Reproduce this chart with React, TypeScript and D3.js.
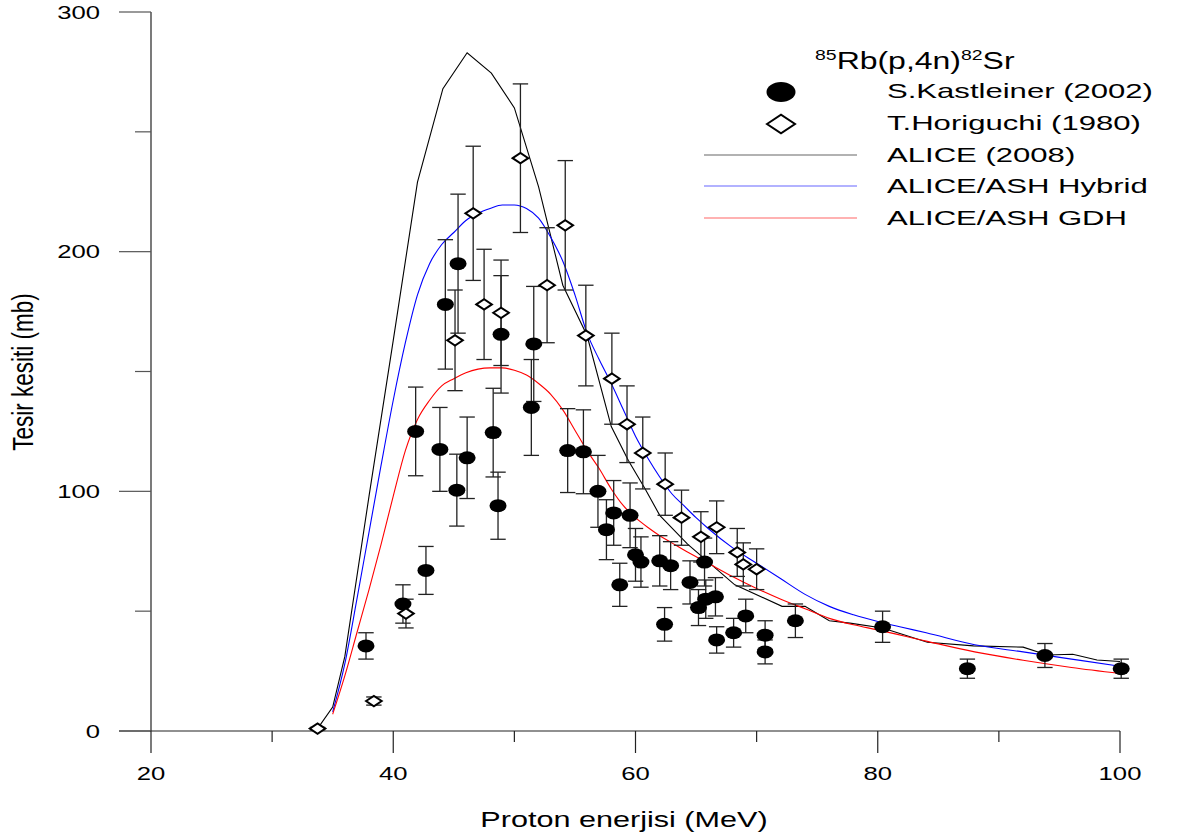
import React from "react";
import * as d3 from "d3";

// Kastleiner (2002) data: energy (MeV), cross-section (mb), error (mb)
const kastE = [37.75, 40.8, 42.7, 41.85, 43.85, 45.25, 46.1, 44.3, 45.35, 48.25, 48.65, 48.9, 51.6, 51.4, 54.4, 55.7, 56.9, 57.6, 58.2, 58.7, 59.55, 60.0, 60.45, 62.0, 62.9, 62.4, 64.5, 65.2, 65.7, 65.8, 66.6, 66.7, 68.1, 69.1, 70.7, 70.7, 73.2, 80.4, 87.4, 93.8, 100.1];
const kastV = [35.5, 53, 67, 125, 117.5, 100.5, 114, 178, 195, 124.5, 94, 165.5, 161.5, 135, 117, 116.5, 100, 84, 91, 61, 90, 73.5, 70.5, 71, 69, 44.5, 62, 51.5, 70.5, 55, 56, 38, 41, 48, 40, 33, 46, 43.5, 26, 31.5, 26];
const kastErr = [5.5, 8, 10, 18.5, 17.5, 15, 17, 27, 29, 18.5, 14, 24.5, 24, 20, 17.5, 17.5, 15, 12.5, 13.5, 9, 13.5, 11, 10.5, 10.5, 10, 7, 9, 7.5, 10, 8, 8, 5.5, 6, 7, 6, 5, 7, 6.5, 4, 5, 4];

// Horiguchi (1980) data
const horiE = [33.75, 38.4, 41.05, 45.1, 46.6, 47.5, 48.9, 50.5, 52.7, 54.2, 55.9, 58.05, 59.3, 60.6, 62.45, 63.8, 65.4, 66.7, 68.4, 68.9, 70.0];
const horiV = [1, 12.5, 49, 163, 216, 178, 174.5, 239, 186, 211, 165, 147, 128, 116, 103, 89, 81, 85, 74.5, 69.5, 67.5];
const horiErr = [0.5, 1.7, 6, 21, 28, 23, 22, 31, 24, 27, 21, 19, 16, 15, 13, 11.5, 10.5, 11, 10, 9, 8.5];

// ALICE (2008)
const aliceE = [33.75, 35, 36, 38, 40, 42, 44.1, 46.1, 48.1, 50, 52, 54, 56, 58, 59.4, 60.8, 62, 64.3, 68.2, 72.1, 74, 76, 77.7, 80.4, 84.1, 87.9, 92, 94, 96.1, 98.1, 100];
const aliceV = [1, 10, 31, 98, 163, 229, 268, 283, 274.5, 260, 227, 186, 165, 127, 113, 101, 90, 78, 61, 52, 52, 46, 45, 43, 37, 35.5, 35, 31.7, 32, 29.6, 29];

// ALICE/ASH Hybrid
const hybE = [35, 36, 37, 38, 39, 40, 41, 42, 43, 44, 45, 46, 47, 48, 49, 50, 51, 52, 53, 54, 55, 56, 57, 58, 59, 60, 61, 62, 63, 64, 65, 66, 68, 70, 72, 74, 76, 78, 80, 82, 84, 88, 92, 96, 100];
const hybV = [8, 28, 55, 83, 111, 138, 162, 182, 195, 203, 208, 213, 216, 218, 219.5, 219.5, 218, 214, 206, 196, 182, 166, 155, 145, 134, 123, 114, 106, 99, 94, 89, 84.5, 76.5, 70, 63.5, 57, 52, 48.5, 45.7, 43.3, 41, 36, 33, 30, 27];

// ALICE/ASH GDH
const gdhE = [35, 36, 37, 38, 39, 40, 41, 42, 43, 44, 45, 46, 47, 48, 49, 50, 51, 52, 53, 54, 55, 56, 57, 58, 59, 60, 61, 62, 63, 64, 66, 68, 70, 72, 74, 76, 78, 80, 84, 88, 92, 96, 100];
const gdhV = [7, 23, 41, 59, 78, 98, 117, 130, 138, 144, 147, 149.5, 151, 151.5, 151.5, 150.5, 148.5, 145, 140.5, 134, 125.5, 117, 109.5, 101, 94, 89, 85, 81.5, 78.5, 75.5, 70, 64.5, 59.5, 55, 51, 47, 44.3, 42.2, 37.5, 33, 29.5, 26.5, 24];

const xMajor = [20, 40, 60, 80, 100];
const xMinor = [30, 50, 70, 90];
const yMajor = [0, 100, 200, 300];
const yMinor = [50, 150, 250];

const legendItems = ["S.Kastleiner (2002)", "T.Horiguchi (1980)", "ALICE (2008)", "ALICE/ASH Hybrid", "ALICE/ASH GDH"];

const FONT = "'Liberation Sans', Arial, Helvetica, sans-serif";

function SText({ x, y, sx = 1.4, size, anchor = "start", children, dy }: any) {
  return (
    <g transform={`translate(${x},${y}) scale(${sx},1)`}>
      <text textAnchor={anchor} fontSize={size} fontFamily={FONT} fill="#000" dy={dy}>
        {children}
      </text>
    </g>
  );
}

export default function App() {
  const W = 1180, H = 837;
  const x = d3.scaleLinear().domain([20, 100]).range([151, 1120]);
  const y = d3.scaleLinear().domain([0, 300]).range([731, 12]);

  const lineLin = d3.line<[number, number]>().x(d => x(d[0])).y(d => y(d[1]));
  const lineSmooth = d3.line<[number, number]>().x(d => x(d[0])).y(d => y(d[1])).curve(d3.curveMonotoneX);

  const alice = aliceE.map((e, i) => [e, aliceV[i]] as [number, number]);
  const hyb = hybE.map((e, i) => [e, hybV[i]] as [number, number]);
  const gdh = gdhE.map((e, i) => [e, gdhV[i]] as [number, number]);

  const cap = 7.7;
  const errColor = "#222";

  const diamond = (cx: number, cy: number, hw: number, hh: number) =>
    `M${cx - hw},${cy} L${cx},${cy - hh} L${cx + hw},${cy} L${cx},${cy + hh} Z`;

  const errBar = (e: number, v: number, err: number, key: string) => {
    const cx = x(e), y1 = y(v + err), y2 = y(v - err);
    return (
      <g key={key} stroke={errColor} strokeWidth={1.3} fill="none">
        <line x1={cx} x2={cx} y1={y1} y2={y2} />
        <line x1={cx - cap} x2={cx + cap} y1={y1} y2={y1} />
        <line x1={cx - cap} x2={cx + cap} y1={y2} y2={y2} />
      </g>
    );
  };

  const legendY = [92, 124, 155, 186, 218];
  const legendBase = [98, 130, 162, 193, 225];

  return (
    <svg width={W} height={H} style={{ position: "absolute", left: 0, top: 0, background: "#fff" }}>
      <rect x={0} y={0} width={W} height={H} fill="#fff" />
      {/* axes */}
      <g stroke="#222" strokeWidth={1.2} fill="none">
        <line x1={151} x2={151} y1={y(300)} y2={y(0)} />
        <line x1={119} x2={x(100)} y1={y(0)} y2={y(0)} />
        {yMajor.map(t => <line key={"ym" + t} x1={119} x2={151} y1={y(t)} y2={y(t)} stroke="#555" />)}
        {yMinor.map(t => <line key={"yn" + t} x1={135} x2={151} y1={y(t)} y2={y(t)} stroke="#555" />)}
        {xMajor.map(t => <line key={"xm" + t} x1={x(t)} x2={x(t)} y1={y(0)} y2={753} />)}
        {xMinor.map(t => <line key={"xn" + t} x1={x(t)} x2={x(t)} y1={y(0)} y2={742} />)}
      </g>
      {yMajor.map(t => (
        <SText key={"yl" + t} x={100} y={y(t)} sx={1.38} size={18.6} anchor="end" dy="0.36em">{t}</SText>
      ))}
      {xMajor.map(t => (
        <SText key={"xl" + t} x={x(t)} y={780} sx={1.38} size={18.6} anchor="middle">{t}</SText>
      ))}
      <SText x={624} y={827} sx={1.36} size={22.5} anchor="middle">Proton enerjisi (MeV)</SText>
      <g transform="translate(33,372) scale(1.35,1) rotate(-90)">
        <text textAnchor="middle" fontSize={22.5} fontFamily={FONT} fill="#000">Tesir kesiti (mb)</text>
      </g>

      {/* model curves */}
      <path d={lineLin(alice) || ""} fill="none" stroke="#000" strokeWidth={1.1} />
      <path d={lineSmooth(hyb) || ""} fill="none" stroke="#0000ff" strokeWidth={1.1} />
      <path d={lineSmooth(gdh) || ""} fill="none" stroke="#ff0000" strokeWidth={1.1} />

      {/* error bars */}
      {kastE.map((e, i) => errBar(e, kastV[i], kastErr[i], "ke" + i))}
      {horiE.map((e, i) => errBar(e, horiV[i], horiErr[i], "he" + i))}

      {/* markers */}
      {kastE.map((e, i) => (
        <ellipse key={"k" + i} cx={x(e)} cy={y(kastV[i])} rx={8.5} ry={6.5} fill="#000" />
      ))}
      {horiE.map((e, i) => (
        <path key={"h" + i} d={diamond(x(e), y(horiV[i]), 7.8, 5.2)} fill="#fff" stroke="#000" strokeWidth={2} />
      ))}

      {/* legend */}
      <g transform="translate(815,69) scale(1.39,1)">
        <text fontFamily={FONT} fill="#000" fontSize={23}>
          <tspan fontSize={14} dy={-9}>85</tspan>
          <tspan dy={9}>Rb(p,4n)</tspan>
          <tspan fontSize={14} dy={-9}>82</tspan>
          <tspan dy={9}>Sr</tspan>
        </text>
      </g>
      <ellipse cx={781} cy={legendY[0]} rx={14.5} ry={10} fill="#000" />
      <path d={diamond(781, legendY[1], 14, 9.3)} fill="#fff" stroke="#000" strokeWidth={2} />
      <line x1={704} x2={857} y1={legendY[2]} y2={legendY[2]} stroke="#000" strokeWidth={1} opacity={0.6} />
      <line x1={704} x2={857} y1={legendY[3]} y2={legendY[3]} stroke="#0000ff" strokeWidth={1} opacity={0.6} />
      <line x1={704} x2={857} y1={legendY[4]} y2={legendY[4]} stroke="#ff0000" strokeWidth={1} opacity={0.6} />
      {legendItems.map((t, i) => (
        <SText key={"lg" + i} x={887} y={legendBase[i]} sx={1.48} size={21}>{t}</SText>
      ))}
    </svg>
  );
}
